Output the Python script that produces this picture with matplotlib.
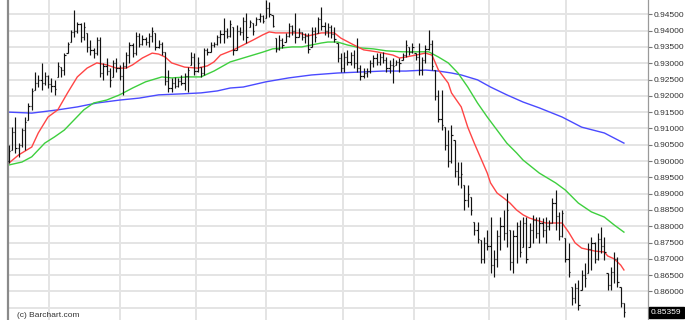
import matplotlib
matplotlib.use("Agg")
import matplotlib.pyplot as plt
from matplotlib.collections import LineCollection
from matplotlib.ticker import FormatStrFormatter

# ---------------------------------------------------------------------------
# daily OHLC, in pips (1e-4)
# ---------------------------------------------------------------------------
highs_pips = [
    9049, 9104, 9135, 9055, 9101, 9135, 9178, 9224, 9273, 9264,
    9301, 9273, 9264, 9255, 9249, 9304, 9288, 9331, 9365, 9402,
    9463, 9427, 9423, 9427, 9393, 9371, 9347, 9381, 9381, 9301,
    9316, 9285, 9310, 9316, 9295, 9304, 9335, 9365, 9362, 9396,
    9393, 9387, 9381, 9393, 9411, 9393, 9371, 9365, 9335, 9279,
    9255, 9258, 9255, 9264, 9270, 9288, 9335, 9331, 9319, 9288,
    9347, 9347, 9365, 9365, 9387, 9402, 9439, 9408, 9433, 9411,
    9417, 9411, 9442, 9454, 9433, 9423, 9442, 9454, 9448, 9494,
    9488, 9448, 9377, 9387, 9377, 9393, 9423, 9417, 9454, 9408,
    9396, 9393, 9393, 9411, 9411, 9442, 9473, 9427, 9423, 9417,
    9411, 9362, 9331, 9335, 9341, 9335, 9341, 9377, 9295, 9285,
    9285, 9310, 9325, 9331, 9331, 9335, 9319, 9310, 9316, 9310,
    9316, 9331, 9371, 9350, 9362, 9331, 9362, 9319, 9356, 9402,
    9371, 9279, 9218, 9218, 9104, 9095, 9111, 9065, 8997, 8997,
    8927, 8927, 8890, 8813, 8813, 8758, 8767, 8789, 8828, 8727,
    8789, 8828, 8850, 8902, 8789, 8789, 8813, 8819, 8828, 8828,
    8810, 8835, 8828, 8828, 8825, 8828, 8819, 8887, 8911, 8844,
    8850, 8764, 8749, 8614, 8626, 8635, 8666, 8687, 8749, 8767,
    8752, 8779, 8798, 8767, 8657, 8675, 8721, 8706, 8614, 8565,
]
lows_pips = [
    8994, 9034, 9025, 9013, 9043, 9034, 9126, 9157, 9218, 9227,
    9218, 9233, 9224, 9212, 9203, 9258, 9258, 9264, 9331, 9365,
    9381, 9393, 9365, 9371, 9335, 9325, 9316, 9325, 9258, 9249,
    9264, 9227, 9258, 9273, 9249, 9203, 9285, 9301, 9319, 9325,
    9350, 9356, 9356, 9350, 9365, 9341, 9347, 9325, 9233, 9212,
    9212, 9224, 9227, 9233, 9218, 9212, 9295, 9264, 9273, 9258,
    9264, 9325, 9335, 9350, 9356, 9362, 9362, 9377, 9381, 9325,
    9341, 9387, 9371, 9362, 9411, 9387, 9417, 9427, 9423, 9439,
    9442, 9411, 9335, 9341, 9347, 9365, 9381, 9387, 9362, 9381,
    9371, 9362, 9331, 9350, 9365, 9393, 9402, 9387, 9381, 9377,
    9365, 9304, 9273, 9273, 9295, 9295, 9285, 9273, 9249, 9255,
    9258, 9270, 9288, 9295, 9295, 9301, 9273, 9270, 9239, 9295,
    9273, 9310, 9319, 9325, 9331, 9310, 9264, 9264, 9301, 9341,
    9279, 9187, 9120, 9095, 9034, 8982, 8994, 8951, 8927, 8917,
    8850, 8859, 8835, 8773, 8749, 8687, 8687, 8727, 8657, 8644,
    8675, 8727, 8758, 8736, 8666, 8657, 8687, 8706, 8736, 8687,
    8736, 8749, 8764, 8749, 8767, 8749, 8789, 8810, 8789, 8758,
    8767, 8690, 8644, 8559, 8565, 8543, 8605, 8614, 8657, 8666,
    8687, 8697, 8718, 8697, 8605, 8605, 8626, 8614, 8552, 8522,
]
opens_pips = [
    9000, 9034, 9090, 9040, 9050, 9095, 9126, 9170, 9218, 9240,
    9250, 9240, 9260, 9235, 9230, 9258, 9288, 9280, 9331, 9365,
    9395, 9400, 9420, 9380, 9393, 9350, 9340, 9330, 9370, 9270,
    9290, 9275, 9258, 9300, 9285, 9260, 9290, 9325, 9355, 9330,
    9385, 9360, 9375, 9365, 9385, 9393, 9350, 9360, 9335, 9245,
    9225, 9240, 9230, 9245, 9240, 9260, 9295, 9320, 9275, 9288,
    9270, 9340, 9335, 9355, 9360, 9380, 9390, 9400, 9385, 9411,
    9341, 9400, 9395, 9430, 9411, 9423, 9417, 9435, 9445, 9439,
    9470, 9448, 9377, 9345, 9370, 9365, 9385, 9415, 9400, 9381,
    9395, 9380, 9385, 9350, 9400, 9393, 9435, 9415, 9400, 9410,
    9390, 9362, 9315, 9285, 9320, 9305, 9325, 9300, 9285, 9260,
    9270, 9275, 9300, 9315, 9305, 9320, 9310, 9285, 9295, 9295,
    9305, 9310, 9325, 9350, 9335, 9331, 9320, 9280, 9310, 9345,
    9360, 9279, 9200, 9130, 9104, 9050, 9000, 9065, 8970, 8950,
    8927, 8880, 8890, 8813, 8790, 8758, 8700, 8750, 8740, 8680,
    8700, 8770, 8800, 8780, 8789, 8690, 8770, 8800, 8736, 8810,
    8736, 8790, 8820, 8780, 8810, 8790, 8800, 8810, 8870, 8830,
    8770, 8764, 8700, 8614, 8580, 8610, 8605, 8650, 8657, 8730,
    8750, 8700, 8760, 8740, 8657, 8620, 8660, 8700, 8614, 8565,
]
closes_pips = [
    9030, 9090, 9040, 9050, 9095, 9120, 9170, 9215, 9240, 9250,
    9240, 9260, 9235, 9230, 9220, 9290, 9280, 9325, 9360, 9395,
    9400, 9420, 9380, 9410, 9350, 9340, 9330, 9370, 9270, 9290,
    9275, 9250, 9300, 9285, 9260, 9290, 9325, 9355, 9330, 9385,
    9360, 9375, 9365, 9385, 9400, 9350, 9360, 9335, 9245, 9225,
    9240, 9230, 9245, 9240, 9260, 9280, 9320, 9275, 9300, 9270,
    9340, 9335, 9355, 9360, 9380, 9390, 9400, 9385, 9420, 9340,
    9400, 9395, 9430, 9380, 9425, 9400, 9435, 9445, 9430, 9470,
    9450, 9415, 9345, 9370, 9355, 9385, 9415, 9400, 9380, 9395,
    9380, 9385, 9345, 9400, 9380, 9435, 9415, 9400, 9410, 9390,
    9375, 9315, 9285, 9320, 9305, 9325, 9300, 9285, 9260, 9270,
    9275, 9300, 9315, 9305, 9320, 9310, 9285, 9295, 9290, 9305,
    9300, 9325, 9355, 9335, 9350, 9320, 9280, 9310, 9345, 9360,
    9290, 9200, 9130, 9110, 9050, 9000, 9080, 8970, 8950, 8960,
    8880, 8900, 8850, 8790, 8760, 8700, 8750, 8740, 8680, 8700,
    8770, 8800, 8780, 8850, 8690, 8770, 8800, 8720, 8810, 8700,
    8790, 8820, 8780, 8810, 8790, 8800, 8810, 8870, 8830, 8770,
    8840, 8700, 8660, 8580, 8610, 8560, 8650, 8640, 8730, 8750,
    8700, 8760, 8740, 8720, 8620, 8660, 8700, 8630, 8565, 8536,
]

# moving averages (bar index, value in pips)
red_idx = [0, 3, 7, 9, 12, 15, 18, 21, 24, 27,
           30, 33, 36, 38, 41, 44, 46, 48, 50, 54,
           58, 61, 63, 65, 69, 72, 75, 78, 80, 82,
           85, 89, 92, 96, 100, 102, 106, 109, 113, 118,
           120, 122, 125, 128, 130, 132, 135, 136, 139, 141,
           143, 145, 147, 148, 150, 152, 154, 156, 158, 160,
           165, 170, 172, 174, 176, 180, 183, 184, 186, 188, 189]
red_pips = [8994, 9019, 9043, 9086, 9135, 9157, 9209, 9258, 9285, 9301,
            9295, 9285, 9285, 9295, 9316, 9331, 9328, 9319, 9301, 9288,
            9285, 9292, 9304, 9325, 9341, 9356, 9371, 9387, 9396, 9393,
            9393, 9393, 9384, 9393, 9393, 9377, 9356, 9341, 9335, 9325,
            9316, 9319, 9325, 9331, 9325, 9279, 9239, 9209, 9166, 9104,
            9055, 9009, 8963, 8933, 8902, 8887, 8871, 8850, 8835, 8825,
            8810, 8810, 8782, 8749, 8733, 8724, 8721, 8709, 8700, 8681, 8666]

green_idx = [0, 4, 7, 11, 14, 17, 20, 23, 26, 30,
             34, 38, 42, 47, 50, 55, 59, 63, 68, 72,
             75, 78, 81, 84, 87, 90, 93, 96, 98, 101,
             104, 108, 112, 116, 121, 125, 129, 132, 135, 138,
             141, 144, 147, 150, 153, 156, 158, 163, 168, 171,
             175, 179, 183, 186, 189]
green_pips = [8988, 8997, 9013, 9055, 9074, 9095, 9126, 9157, 9178, 9187,
              9203, 9224, 9243, 9258, 9255, 9258, 9258, 9276, 9304, 9316,
              9325, 9334, 9344, 9347, 9350, 9350, 9356, 9362, 9365, 9365,
              9356, 9347, 9344, 9338, 9335, 9335, 9335, 9319, 9301, 9270,
              9227, 9178, 9135, 9095, 9055, 9025, 9003, 8963, 8933, 8911,
              8871, 8844, 8828, 8804, 8782]

blue_idx = [0, 7, 15, 21, 27, 34, 40, 46, 53, 59,
            64, 68, 72, 79, 86, 93, 101, 108, 115, 122,
            128, 132, 136, 139, 144, 148, 153, 158, 163, 170,
            176, 183, 189]
blue_pips = [9150, 9147, 9157, 9166, 9178, 9187, 9193, 9203, 9206, 9209,
             9215, 9224, 9227, 9243, 9255, 9264, 9270, 9273, 9276, 9276,
             9279, 9276, 9270, 9264, 9249, 9227, 9203, 9181, 9163, 9135,
             9104, 9086, 9055]

# month boundaries (bar index) for the vertical grid
month_breaks = [12.3, 34.1, 57.5, 79.0, 102.6, 124.5, 147.5, 171.2]
grid_levels = [0.855 + 0.005 * k for k in range(19)]
label_levels = grid_levels[1:]      # 0.85500 sits under the last-price box
last_price = 0.85359

highs = [v / 10000 for v in highs_pips]
lows = [v / 10000 for v in lows_pips]
opens = [v / 10000 for v in opens_pips]
closes = [v / 10000 for v in closes_pips]

# ---------------------------------------------------------------------------
fig = plt.figure(figsize=(6.85, 3.2), dpi=100)
ax = fig.add_axes([8 / 685, 0, 640 / 685, 1])

grid_col = '#e4e4e4'
for yv in grid_levels:
    ax.axhline(yv, color=grid_col, lw=1.4, zorder=0)
for xv in month_breaks:
    ax.axvline(xv, color=grid_col, lw=1.4, zorder=0)

ax.plot(blue_idx, [v / 10000 for v in blue_pips], color='#4a4aff', lw=1.0, zorder=2)
ax.plot(green_idx, [v / 10000 for v in green_pips], color='#3ecf3e', lw=1.0, zorder=2)
ax.plot(red_idx, [v / 10000 for v in red_pips], color='#ff4545', lw=1.0, zorder=2)

tw = 0.38
segs = []
for i in range(len(highs)):
    segs.append([(i, lows[i]), (i, highs[i])])
    segs.append([(i - tw, opens[i]), (i, opens[i])])
    segs.append([(i, closes[i]), (i + tw, closes[i])])
ax.add_collection(LineCollection(segs, colors='#111111', linewidths=0.85, zorder=3))

ax.set_xlim(-0.3, 196.4)
ax.set_ylim(0.85125, 0.94939)
ax.set_xticks([])
ax.yaxis.tick_right()
ax.set_yticks(label_levels)
ax.yaxis.set_major_formatter(FormatStrFormatter('%.5f'))
ax.tick_params(axis='y', length=3, width=0.8, color='#777777', pad=1,
               labelsize=6, labelcolor='#333333', labelfontfamily='Liberation Sans')

for s in ['top', 'bottom']:
    ax.spines[s].set_visible(False)
ax.spines['left'].set_color('#8a8a8a')
ax.spines['left'].set_linewidth(1.6)
ax.spines['right'].set_color('#9a9a9a')
ax.spines['right'].set_linewidth(0.9)

ax.text(1.0047, last_price, f'{last_price:.5f}', transform=ax.get_yaxis_transform(),
        ha='left', va='center', fontsize=6, color='white', family='Liberation Sans',
        bbox=dict(boxstyle='square,pad=0.25', facecolor='black', edgecolor='black'),
        clip_on=False, zorder=10)

fig.text(17 / 685, 1 - 317 / 320, '(c) Barchart.com', fontsize=6,
         family='Liberation Sans', color='#333333', va='baseline')

fig.savefig('out.png', dpi=100, facecolor='white')
